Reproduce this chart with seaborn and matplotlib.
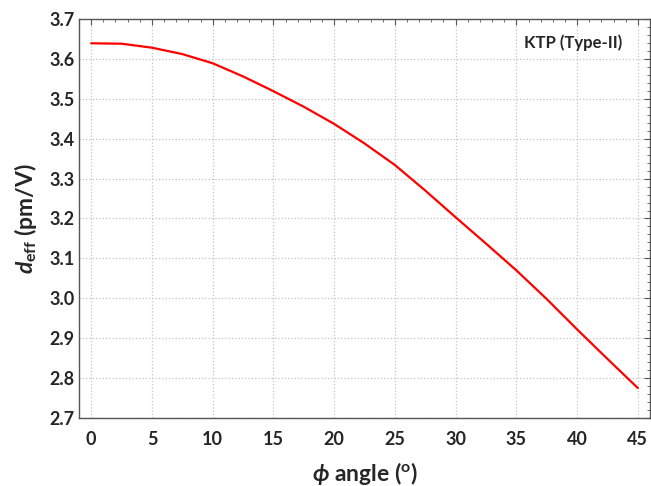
import numpy as np
import matplotlib.pyplot as plt
import seaborn as sns
from matplotlib.ticker import MultipleLocator

# phi angle (deg) and d_eff (pm/V)
phi = [0, 2.5, 5, 7.5, 10, 12.5, 15, 17.5, 20, 22.5,
       25, 27.5, 30, 32.5, 35, 37.5, 40, 42.5, 45]
d_eff = [3.639, 3.638, 3.628, 3.612, 3.589, 3.556, 3.519, 3.480, 3.437, 3.388,
         3.334, 3.270, 3.203, 3.137, 3.070, 2.998, 2.922, 2.848, 2.775]

sns.set_style('white')
plt.rcParams['font.family'] = ['Lato', 'DejaVu Sans']
plt.rcParams['mathtext.fontset'] = 'custom'
plt.rcParams['mathtext.rm'] = 'Lato:bold'
plt.rcParams['mathtext.it'] = 'Lato:italic:bold'
plt.rcParams['mathtext.bf'] = 'Lato:bold'

fig = plt.figure(figsize=(6.51, 4.86), dpi=100)
ax = fig.add_axes([0.1214, 0.1399, 0.8771, 0.8211])

sns.lineplot(x=phi, y=d_eff, color='red', linewidth=1.6, ax=ax)

ax.set_xlim(-1, 46)
ax.set_ylim(2.7, 3.7)
ax.set_xticks(np.arange(0, 50, 5))
ax.set_yticks(np.round(np.arange(2.7, 3.71, 0.1), 1))
ax.set_yticklabels(['%.1f' % v for v in np.arange(2.7, 3.71, 0.1)])
ax.xaxis.set_minor_locator(MultipleLocator(1))
ax.yaxis.set_minor_locator(MultipleLocator(0.02))
ax.tick_params(which='both', direction='in', top=True, right=True, color='#555555')
ax.tick_params(which='major', length=4)
ax.tick_params(which='minor', length=2)
ax.tick_params(axis='x', which='major', labelsize=13, pad=9)
ax.tick_params(axis='y', which='major', labelsize=13, pad=3)
for lab in ax.get_xticklabels() + ax.get_yticklabels():
    lab.set_fontweight('bold')

ax.grid(True, which='major', linestyle=':', color='#c4c4c4', linewidth=0.9)
for s in ax.spines.values():
    s.set_color('#555555')
    s.set_linewidth(1.0)

ax.set_xlabel(r'$\phi$ angle ($^{\rm o}$)', fontsize=16.5, fontweight='bold', labelpad=9)
ax.set_ylabel(r'$d_{\rm eff}$ (pm/V)', fontsize=16.5, fontweight='bold', labelpad=8)

ax.text(0.951, 0.94, 'KTP (Type-II)', transform=ax.transAxes, ha='right', va='center',
        fontsize=12, fontweight='bold')

plt.savefig('out.png', dpi=100)
